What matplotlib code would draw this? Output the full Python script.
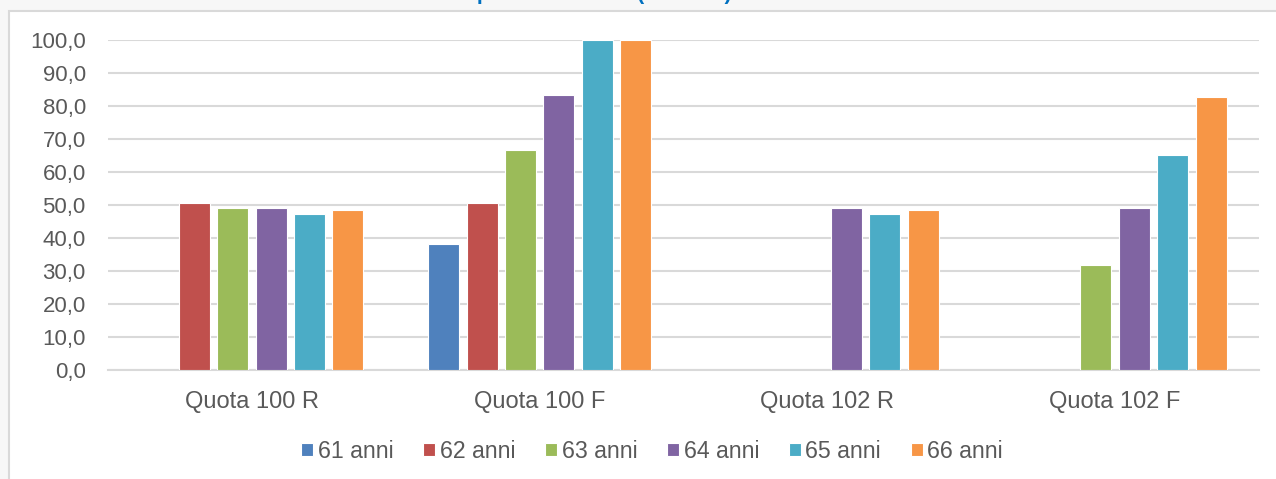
import numpy as np
import matplotlib.pyplot as plt
from matplotlib.patches import Rectangle

# data (nan = no bar)
categories = ["Quota 100 R", "Quota 100 F", "Quota 102 R", "Quota 102 F"]
series = ["61 anni", "62 anni", "63 anni", "64 anni", "65 anni", "66 anni"]
anni_61 = [np.nan, 38.1, np.nan, np.nan]
anni_62 = [50.5, 50.5, np.nan, np.nan]
anni_63 = [49.1, 66.6, np.nan, 31.8]
anni_64 = [49.0, 83.4, 49.1, 49.2]
anni_65 = [47.2, 100.0, 47.2, 65.1]
anni_66 = [48.6, 100.0, 48.6, 82.6]
values = [anni_61, anni_62, anni_63, anni_64, anni_65, anni_66]
colors = ["#4f81bd", "#c0504d", "#9bbb59", "#8064a2", "#4bacc6", "#f79646"]
title = "Percentuale di pensionamento (valori %)"

plt.rcParams['font.family'] = ['Liberation Sans', 'DejaVu Sans']

fig = plt.figure(figsize=(12.76, 4.79), dpi=100)
fig.patch.set_facecolor("#f7f7f7")

W, H = 1276, 479
# white panel behind the chart
panel = Rectangle((9 / W, -0.01), 1.0, 1.01 - 11 / H, transform=fig.transFigure,
                  facecolor="white", edgecolor="#d9d9d9", linewidth=1.5, zorder=-5)
fig.patches.append(panel)

# title, mostly cut off at the top edge (as in the reference)
fig.text(0.415, 1 - 0.5 / H, title, ha="center", va="baseline",
         color="#0070c0", fontsize=15, fontweight="bold")

ax = fig.add_axes([108 / W, 1 - 370 / H, (1259 - 108) / W, (370 - 40) / H])
ax.set_facecolor("none")

x = np.arange(len(categories))
pitch = 0.1334
width = 0.108
for i, (name, vals, c) in enumerate(zip(series, values, colors)):
    offset = (i - 2.5) * pitch
    ax.bar(x + offset, vals, width=width, color=c, edgecolor="white",
           linewidth=0.8, label=name, zorder=3)

ax.set_xlim(-0.5, len(categories) - 0.5)
ax.set_ylim(0, 100)
ax.set_yticks(np.arange(0, 101, 10))
ax.set_yticklabels([f"{v:.1f}".replace(".", ",") for v in np.arange(0, 101, 10)])
ax.set_xticks(x)
ax.set_xticklabels(categories)
ax.tick_params(axis="both", length=0, colors="#595959")
ax.tick_params(axis="x", pad=15, labelsize=17)
ax.tick_params(axis="y", pad=16, labelsize=16)
ax.yaxis.grid(True, color="#d9d9d9", linewidth=1.5, zorder=0)
for s in ["top", "right", "left"]:
    ax.spines[s].set_visible(False)
ax.spines["bottom"].set_color("#d9d9d9")
ax.spines["bottom"].set_linewidth(1.5)

leg = fig.legend(*ax.get_legend_handles_labels(), loc="center",
                 bbox_to_anchor=(652 / W, 1 - 451 / H), ncol=6, frameon=False,
                 fontsize=16.7, handlelength=0.52, handleheight=0.52,
                 handletextpad=0.2, columnspacing=1.28, labelcolor="#595959")

fig.savefig("out.png", dpi=100, facecolor=fig.get_facecolor())
